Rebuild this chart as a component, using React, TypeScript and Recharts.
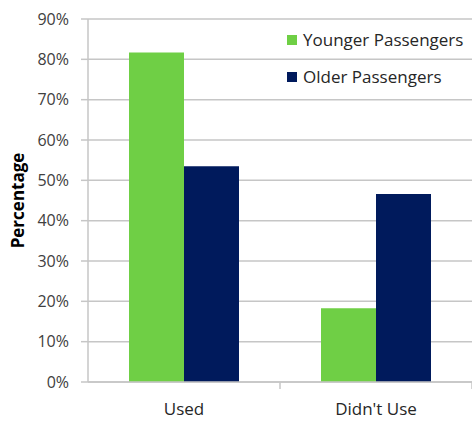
import { BarChart, Bar, XAxis, YAxis, CartesianGrid } from 'recharts';

const categories = ['Used', "Didn't Use"];
const younger = [0.817, 0.183];
const older = [0.535, 0.466];
const yTicks = [0, 0.1, 0.2, 0.3, 0.4, 0.5, 0.6, 0.7, 0.8, 0.9];
const seriesNames = ['Younger Passengers', 'Older Passengers'];

const GREEN = '#6fcf45';
const NAVY = '#001a5c';
const GRID = '#c6c6c6';
const FONT = '"Open Sans", Lato, sans-serif';

const data = categories.map((c, i) => ({ name: c, younger: younger[i], older: older[i] }));

function CategoryTick(props: any) {
  const { x, y, payload } = props;
  return (
    <g>
      <line x1={x + 96} y1={y - 8} x2={x + 96} y2={y - 1} stroke={GRID} strokeWidth={1.5} />
      <text x={x} y={y + 25} textAnchor="middle" fontSize={17} fill="#262626" fontFamily={FONT}>
        {payload.value}
      </text>
    </g>
  );
}

function YLabel(props: any) {
  const { viewBox } = props;
  const cx = viewBox.x + 17;
  const cy = viewBox.y + viewBox.height / 2;
  return (
    <text
      x={cx}
      y={cy}
      transform={`rotate(-90 ${cx} ${cy})`}
      textAnchor="middle"
      dominantBaseline="central"
      fontSize={17}
      fontWeight={700}
      fill="#000"
      fontFamily={FONT}
    >
      Percentage
    </text>
  );
}

export default function App() {
  const colors = [GREEN, NAVY];
  return (
    <div style={{ position: 'absolute', left: 0, top: 0, width: 472, height: 423, background: '#fff' }}>
      <BarChart width={472} height={423} data={data} margin={{ top: 19, right: 0, left: 0, bottom: 0 }} barGap={0}>
        <CartesianGrid vertical={false} stroke={GRID} strokeWidth={1.5} />
        <XAxis
          dataKey="name"
          height={41}
          axisLine={{ stroke: GRID, strokeWidth: 1.5 }}
          tickLine={false}
          tick={<CategoryTick />}
          interval={0}
        />
        <YAxis
          width={88}
          domain={[0, 0.9]}
          ticks={yTicks}
          interval={0}
          tickFormatter={(v: number) => `${Math.round(v * 100)}%`}
          tick={{ fontSize: 16, fill: '#404040', fontFamily: FONT }}
          tickSize={7}
          tickMargin={12}
          axisLine={{ stroke: GRID, strokeWidth: 1.5 }}
          tickLine={{ stroke: GRID, strokeWidth: 1.5 }}
          label={<YLabel />}
        />
        <Bar dataKey="younger" name={seriesNames[0]} fill={GREEN} barSize={55} isAnimationActive={false} />
        <Bar dataKey="older" name={seriesNames[1]} fill={NAVY} barSize={55} isAnimationActive={false} />
      </BarChart>
      <div style={{ position: 'absolute', left: 287, top: 21, fontFamily: FONT, fontSize: 17, color: '#262626' }}>
        {seriesNames.map((n, i) => (
          <div key={n} style={{ display: 'flex', alignItems: 'center', height: 37, whiteSpace: 'nowrap' }}>
            <span style={{ width: 10, height: 10, background: colors[i], marginRight: 6, display: 'inline-block' }} />
            {n}
          </div>
        ))}
      </div>
    </div>
  );
}
